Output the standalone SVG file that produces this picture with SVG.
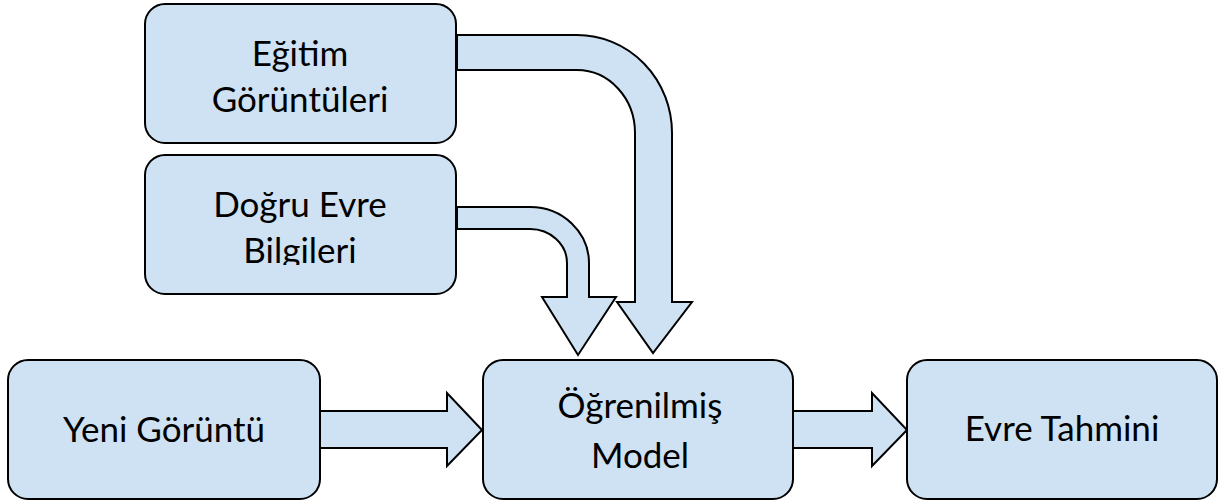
<svg xmlns="http://www.w3.org/2000/svg" width="1229" height="504" viewBox="0 0 1229 504">
<style>
.box{fill:#cfe2f3;stroke:#000;stroke-width:2}
.arr{fill:#cfe2f3;stroke:#000;stroke-width:2;stroke-linejoin:miter}
.t{font-family:Lato,"Open Sans","Liberation Sans",sans-serif;font-size:35px;fill:#000;text-anchor:middle}
</style>
<defs>
<clipPath id="clipB"><rect x="145" y="155" width="312" height="110"/></clipPath>
</defs>
<rect width="1229" height="504" fill="#fff"/>
<g id="connectors">
<path class="arr" d="M457,207 L530,207 A59,56 0 0 1 589,263 L589,297 L616,297 L578,355 L542,297 L567,297 L567,263 A37,34 0 0 0 530,229 L457,229 Z"/>
<path class="arr" d="M457,35 L577,35 A95,98 0 0 1 672,133 L672,302 L692,302 L653,353 L617,302 L635,302 L635,133 A58,63 0 0 0 577,70 L457,70 Z"/>
<path class="arr" d="M320,411 L447,411 L447,393 L482,430 L447,466 L447,448 L320,448 Z"/>
<path class="arr" d="M793,411 L872,411 L872,393 L907,430 L872,466 L872,448 L793,448 Z"/>
</g>
<g id="egitim">
<rect class="box" x="145" y="4" width="311" height="139" rx="20"/>
<text class="t" x="300" y="66">Eğitim</text>
<text class="t" x="300" y="112">Görüntüleri</text>
</g>
<g id="dogru">
<rect class="box" x="145" y="155" width="311" height="139" rx="20"/>
<text class="t" x="300" y="217">Doğru Evre</text>
<text class="t" x="300" y="263" clip-path="url(#clipB)">Bilgileri</text>
</g>
<g id="yeni">
<rect class="box" x="8" y="360" width="312" height="139" rx="20"/>
<text class="t" x="164" y="442">Yeni Görüntü</text>
</g>
<g id="model">
<rect class="box" x="483" y="360" width="310" height="139" rx="20"/>
<text class="t" x="640" y="418">Öğrenilmiş</text>
<text class="t" x="640" y="468">Model</text>
</g>
<g id="evre">
<rect class="box" x="907" y="360" width="310" height="139" rx="20"/>
<text class="t" x="1062" y="441">Evre Tahmini</text>
</g>
</svg>
